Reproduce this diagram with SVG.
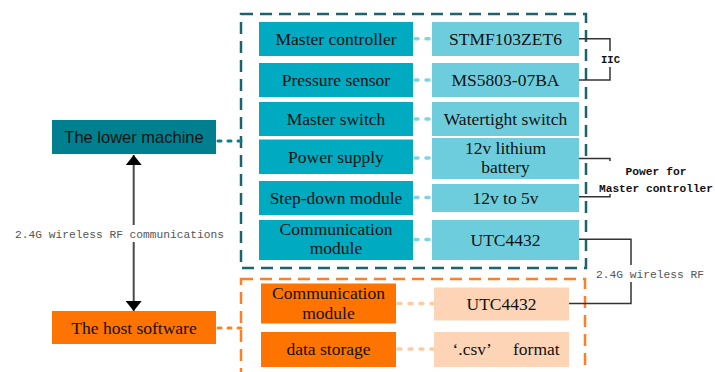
<svg xmlns="http://www.w3.org/2000/svg" width="715" height="372" viewBox="0 0 715 372">
<style>
.bg{fill:#ffffff}
.t{font-family:"Liberation Serif","Times New Roman",serif;font-size:17.5px;fill:#111;text-anchor:middle}
.ts{font-family:"Liberation Sans",Arial,sans-serif;font-size:16.5px;fill:#111;text-anchor:middle}
.mono{font-family:"Liberation Mono","Courier New",monospace;font-size:11.5px;fill:#555}
.monob{font-family:"Liberation Mono","Courier New",monospace;font-size:11.5px;font-weight:bold;fill:#111;text-anchor:middle}
.dark{fill:#00808F}
.cy{fill:#00ABC2}
.lc{fill:#6ECDDC}
.or{fill:#FF7300}
.pe{fill:#FDD5B6}
.frameT{fill:none;stroke:#1C6370;stroke-width:2.5;stroke-dasharray:12 7}
.frameO{fill:none;stroke:#FF7F27;stroke-width:2.5;stroke-dasharray:12 7}
.dotT{fill:none;stroke:#0E7A8A;stroke-width:3;stroke-linecap:round;stroke-dasharray:3 7}
.dotC{fill:none;stroke:#7FD3E3;stroke-width:3.5;stroke-linecap:round;stroke-dasharray:3 8}
.dotO{fill:none;stroke:#FF7F27;stroke-width:3;stroke-linecap:round;stroke-dasharray:3 7}
.dotP{fill:none;stroke:#FDCBA5;stroke-width:3.5;stroke-linecap:round;stroke-dasharray:3 8}
.line{fill:none;stroke:#333;stroke-width:1.5}
.arrow{fill:none;stroke:#4a4a4a;stroke-width:2}
</style>
<defs>
<marker id="ah" viewBox="0 0 10 16" refX="10" refY="8" markerWidth="10" markerHeight="16" markerUnits="userSpaceOnUse" orient="auto-start-reverse">
<path d="M0,0 L10,8 L0,16 z" fill="#000"/>
</marker>
</defs>
<rect width="715" height="372" fill="#fff"/>

<g id="frames">
<rect class="frameT" x="241" y="14" width="345" height="254"/>
<rect class="frameO" x="241" y="279" width="344" height="115"/>
</g>

<g id="connectors">
<path class="dotT" d="M218,141 H241"/>
<path class="dotO" d="M218,328 H241"/>
<path class="dotC" d="M415,38.7 H432"/>
<path class="dotC" d="M415,80 H432"/>
<path class="dotC" d="M415,119 H432"/>
<path class="dotC" d="M415,158 H432"/>
<path class="dotC" d="M415,197.5 H432"/>
<path class="dotC" d="M415,239.5 H432"/>
<path class="dotP" d="M398,303.5 H434"/>
<path class="dotP" d="M398,349 H434"/>
<path class="line" d="M579,38.7 H610 V80 H579"/>
<path class="line" d="M579,158.5 H610 V161"/>
<path class="line" d="M579,196.7 H610 V194"/>
<path class="line" d="M579,239.3 H631 V303.5 H569"/>
<path class="arrow" d="M133.7,155 V311" marker-start="url(#ah)" marker-end="url(#ah)"/>
<rect class="bg" x="14" y="225" width="212" height="17"/>
<text class="mono" x="15" y="238" textLength="209" lengthAdjust="spacingAndGlyphs">2.4G wireless RF communications</text>
<rect class="bg" x="599" y="51" width="23" height="16"/>
<text class="monob" x="610.5" y="63" textLength="19" lengthAdjust="spacingAndGlyphs">IIC</text>
<rect class="bg" x="594" y="265" width="113" height="17"/>
<text class="mono" x="596" y="278" textLength="108" lengthAdjust="spacingAndGlyphs">2.4G wireless RF</text>
<text class="monob" x="656" y="175" textLength="61" lengthAdjust="spacingAndGlyphs">Power for</text>
<text class="monob" x="656" y="192" textLength="114" lengthAdjust="spacingAndGlyphs">Master controller</text>
</g>

<g id="lower-machine">
<rect class="dark" x="52" y="120" width="164" height="34"/>
<text class="ts" x="134" y="143">The lower machine</text>
</g>
<g id="host-software">
<rect class="or" x="52" y="311" width="164" height="33"/>
<text class="t" x="134" y="334">The host software</text>
</g>

<g id="master-controller">
<rect class="cy" x="259" y="22" width="154" height="34"/>
<text class="t" x="336" y="45">Master controller</text>
</g>
<g id="pressure-sensor">
<rect class="cy" x="259" y="63" width="154" height="34"/>
<text class="t" x="336" y="86">Pressure sensor</text>
</g>
<g id="master-switch">
<rect class="cy" x="259" y="102" width="154" height="34"/>
<text class="t" x="336" y="125">Master switch</text>
</g>
<g id="power-supply">
<rect class="cy" x="259" y="139.5" width="154" height="34.5"/>
<text class="t" x="336" y="163">Power supply</text>
</g>
<g id="step-down-module">
<rect class="cy" x="259" y="181" width="154" height="34"/>
<text class="t" x="336" y="204">Step-down module</text>
</g>
<g id="communication-module">
<rect class="cy" x="259" y="220" width="154" height="40"/>
<text class="t" x="336" y="235">Communication</text>
<text class="t" x="336" y="254">module</text>
</g>

<g id="stmf103zet6">
<rect class="lc" x="432" y="22" width="147" height="34"/>
<text class="t" x="505.5" y="45">STMF103ZET6</text>
</g>
<g id="ms5803">
<rect class="lc" x="432" y="63" width="147" height="34"/>
<text class="t" x="505.5" y="86">MS5803-07BA</text>
</g>
<g id="watertight-switch">
<rect class="lc" x="432" y="102" width="147" height="34"/>
<text class="t" x="505.5" y="125">Watertight switch</text>
</g>
<g id="lithium-battery">
<rect class="lc" x="432" y="138" width="147" height="41"/>
<text class="t" x="505.5" y="153.5">12v lithium</text>
<text class="t" x="505.5" y="173">battery</text>
</g>
<g id="v12-to-5v">
<rect class="lc" x="432" y="184" width="147" height="28"/>
<text class="t" x="505.5" y="204">12v to 5v</text>
</g>
<g id="utc4432-lower">
<rect class="lc" x="432" y="220" width="147" height="40"/>
<text class="t" x="505.5" y="246">UTC4432</text>
</g>

<g id="host-communication-module">
<rect class="or" x="261" y="283.5" width="135" height="40"/>
<text class="t" x="328.5" y="299">Communication</text>
<text class="t" x="328.5" y="319">module</text>
</g>
<g id="data-storage">
<rect class="or" x="261" y="332" width="135" height="35"/>
<text class="t" x="328.5" y="355">data storage</text>
</g>
<g id="utc4432-host">
<rect class="pe" x="434" y="287.5" width="135" height="33"/>
<text class="t" x="501.5" y="310">UTC4432</text>
</g>
<g id="csv-format">
<rect class="pe" x="434" y="332" width="135" height="35"/>
<text class="t" x="452.5" y="355" style="text-anchor:start">‘.csv’</text>
<text class="t" x="513" y="355" style="text-anchor:start">format</text>
</g>
</svg>
